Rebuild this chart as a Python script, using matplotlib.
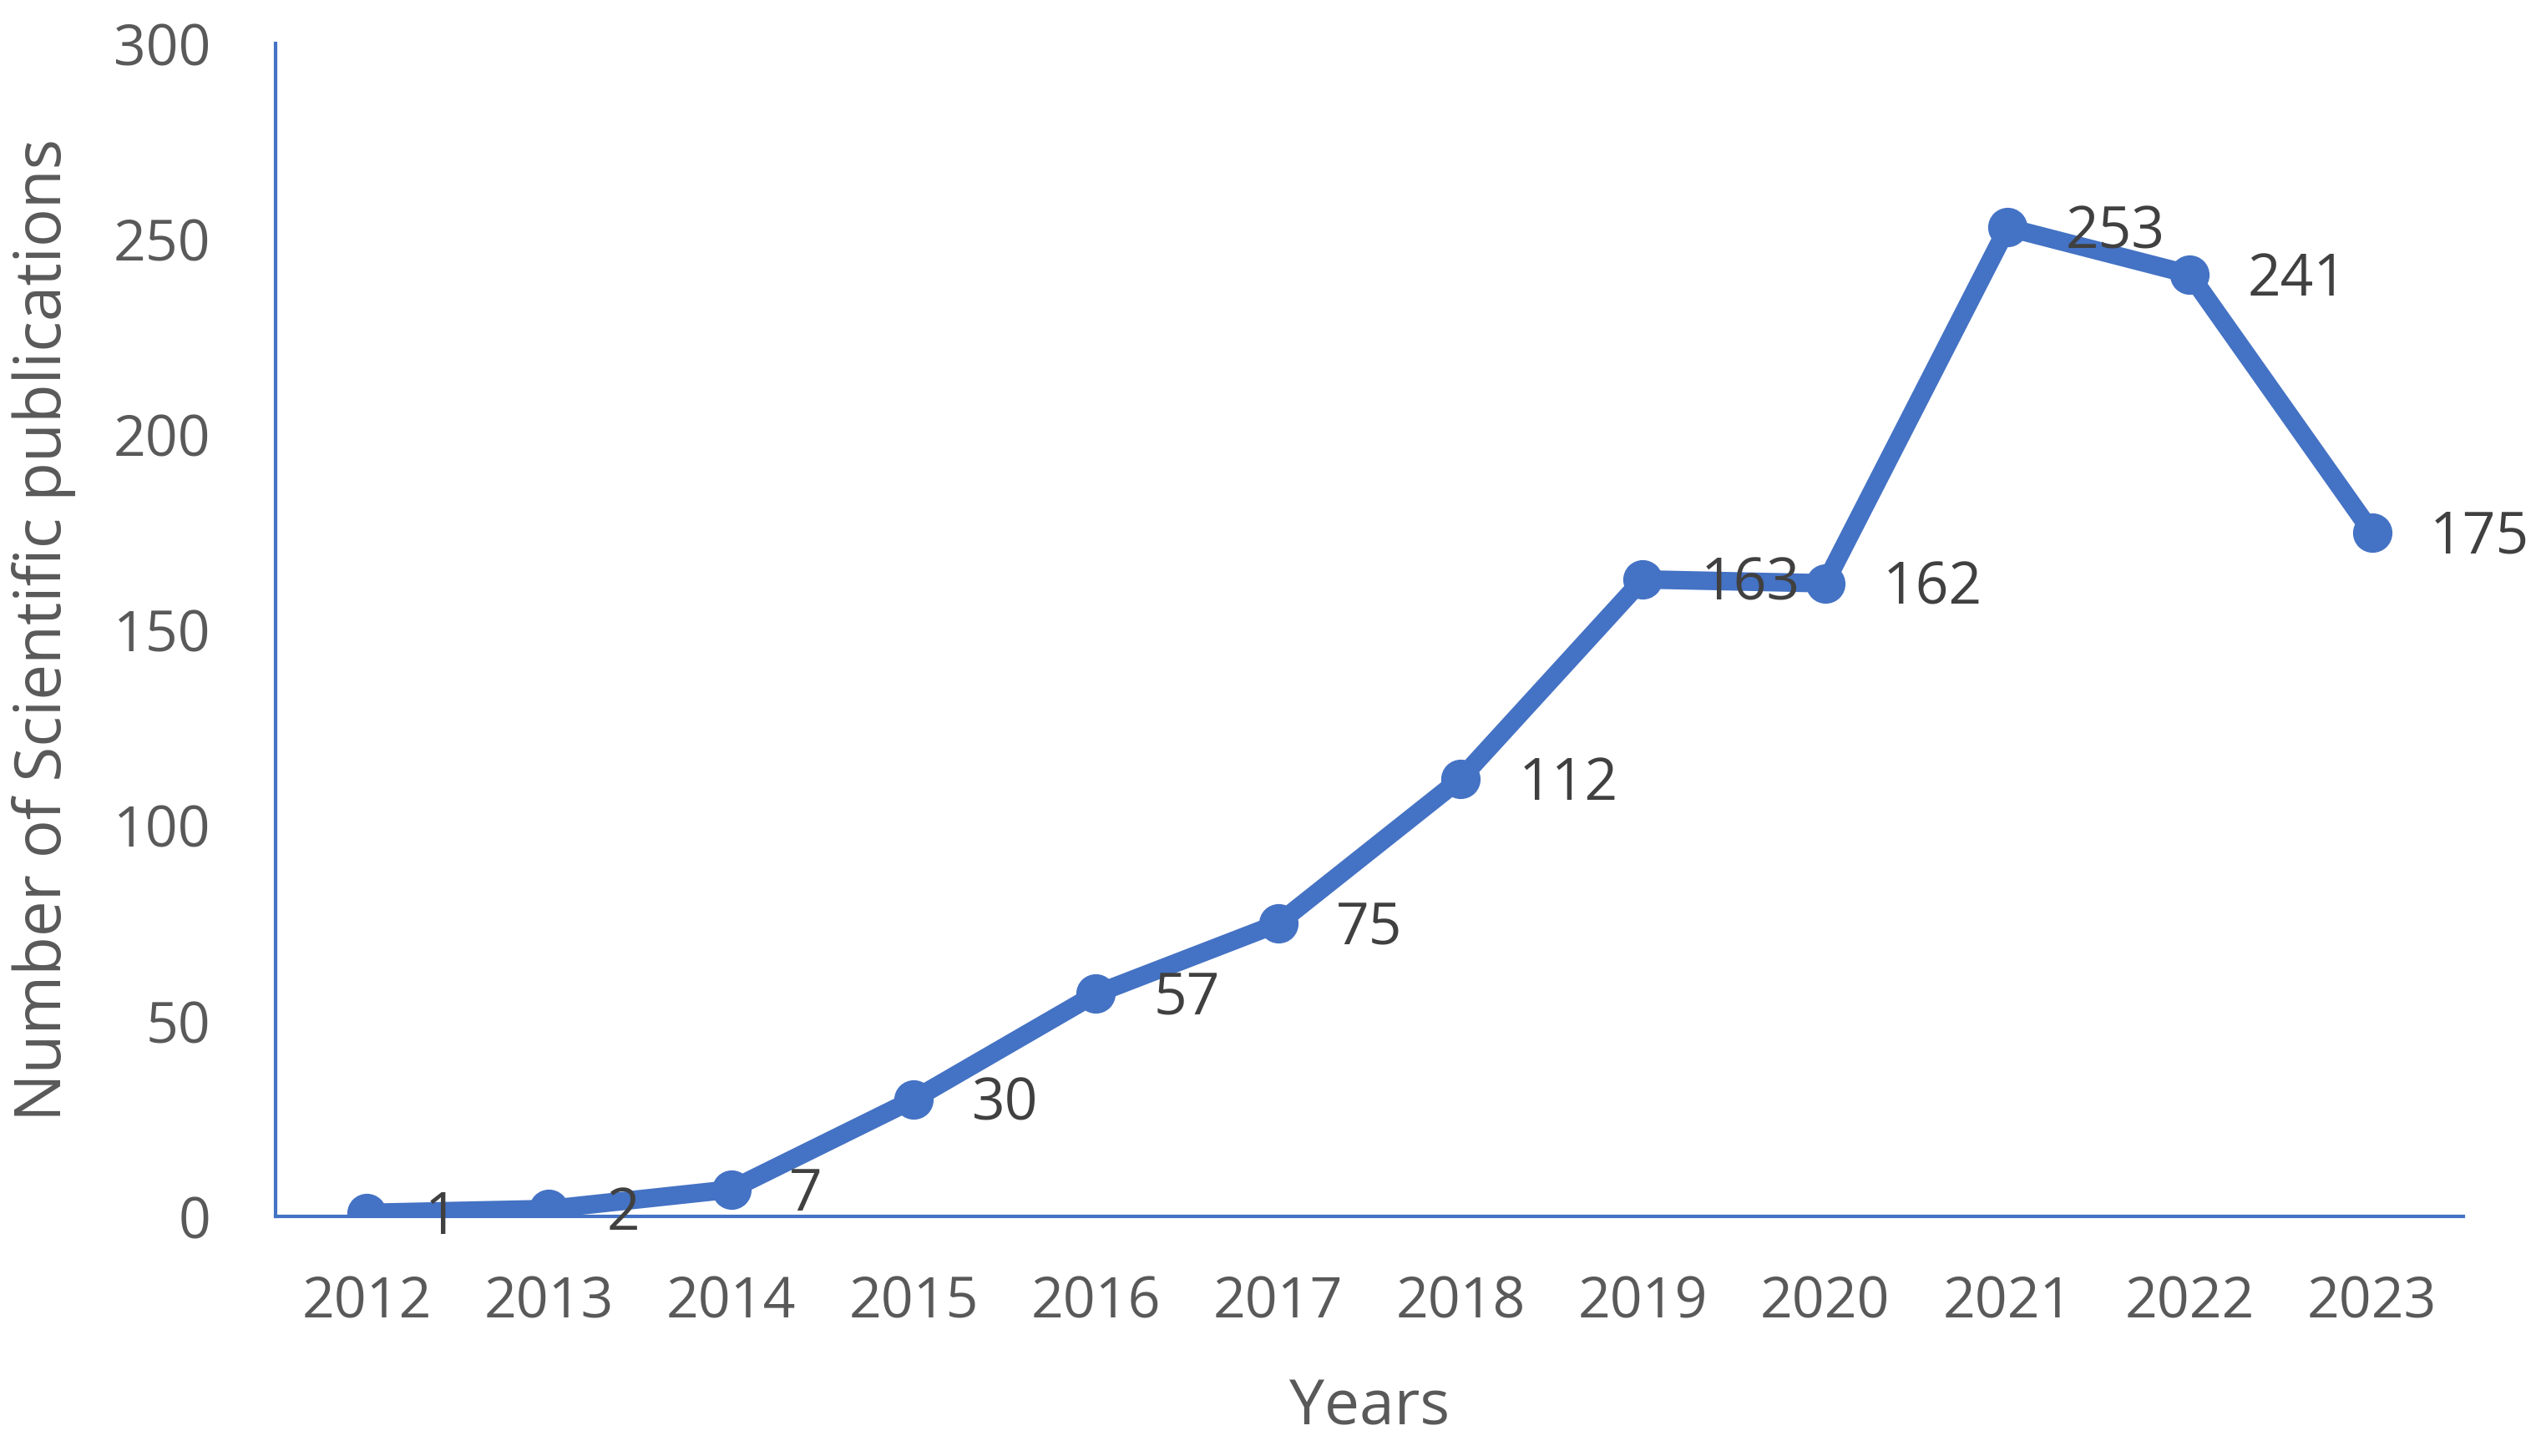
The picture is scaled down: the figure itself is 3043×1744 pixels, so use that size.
import matplotlib
matplotlib.use("Agg")
import matplotlib.pyplot as plt

plt.rcParams['font.family'] = ['Open Sans', 'DejaVu Sans']

years = ['2012', '2013', '2014', '2015', '2016', '2017', '2018', '2019', '2020', '2021', '2022', '2023']
publications = [1, 2, 7, 30, 57, 75, 112, 163, 162, 253, 241, 175]

blue = '#4472C4'
grey = '#595959'

fig = plt.figure(figsize=(30.43, 17.44), dpi=100)
ax = fig.add_axes([0.1084, 0.1643, 0.861, 0.8057])

x = range(len(years))
ax.plot(x, publications, color=blue, linewidth=16, marker='o', markersize=33,
        solid_joinstyle='round', zorder=3)

for i, v in enumerate(publications):
    ax.annotate(str(v), (i, v), xytext=(50, -5), textcoords='offset points',
                ha='left', va='center', fontsize=50, color='#404040', zorder=4)

ax.set_xlim(-0.5, len(years) - 0.5)
ax.set_ylim(0, 300)
ax.set_xticks(list(x))
ax.set_xticklabels(years)
ax.set_yticks(range(0, 301, 50))
ax.tick_params(axis='both', length=0, labelsize=49, labelcolor=grey)
ax.tick_params(axis='x', pad=50)
ax.tick_params(axis='y', pad=56)

for s in ['top', 'right']:
    ax.spines[s].set_visible(False)
for s in ['left', 'bottom']:
    ax.spines[s].set_color(blue)
    ax.spines[s].set_linewidth(3)

ax.set_xlabel('Years', fontsize=54, color=grey, labelpad=40)
ax.set_ylabel('Number of Scientific publications', fontsize=55, color=grey, labelpad=32)

fig.savefig('out.png', dpi=100)
